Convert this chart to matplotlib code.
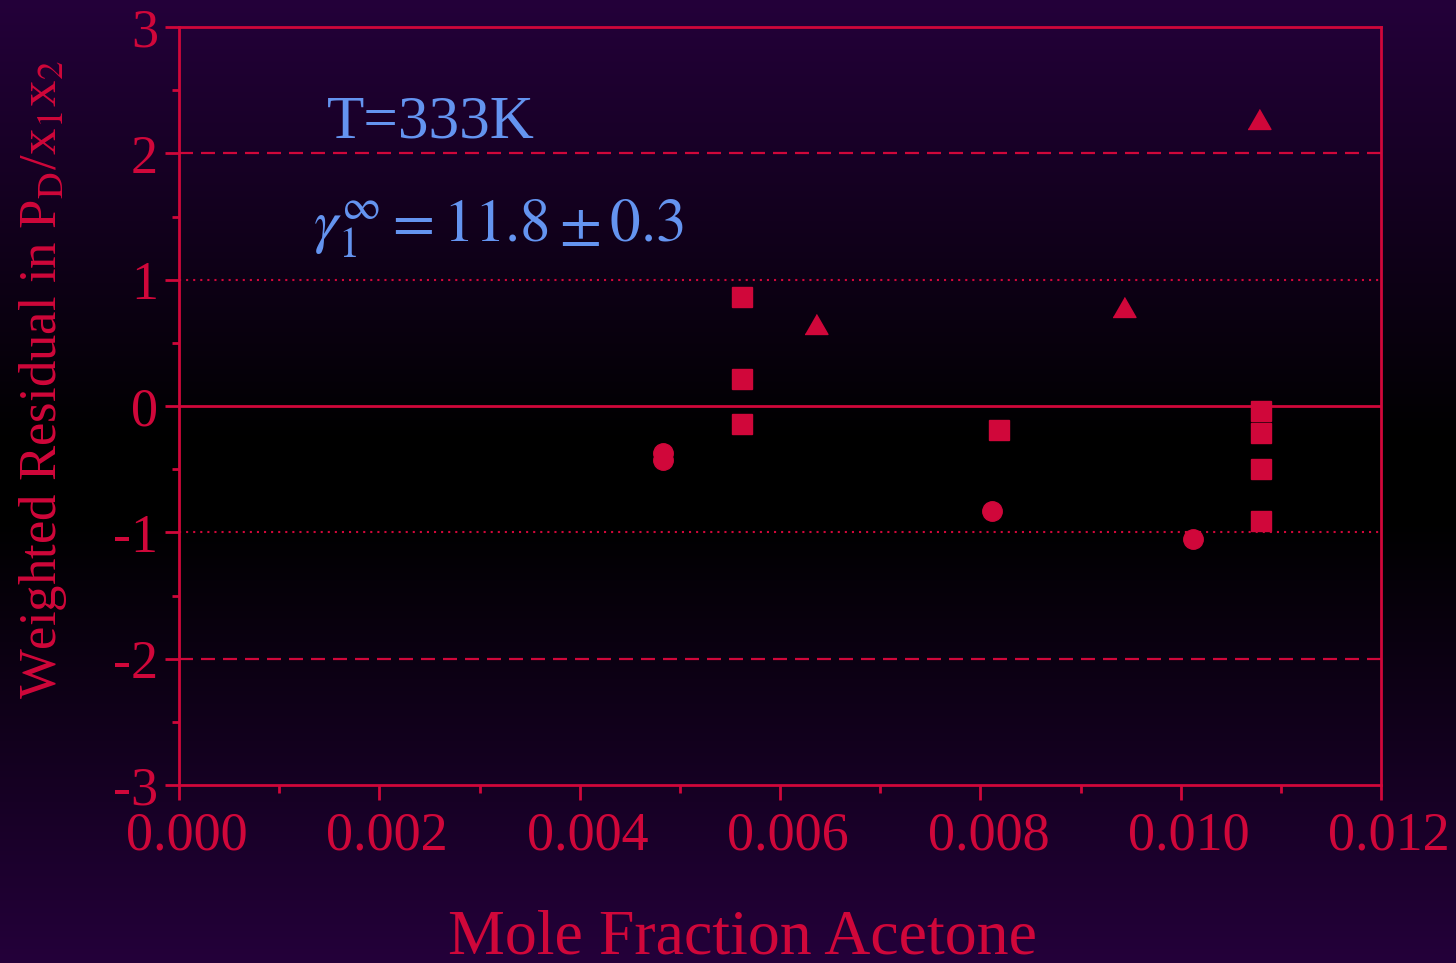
import numpy as np
import matplotlib
import matplotlib.pyplot as plt
import matplotlib.transforms as mtransforms
from matplotlib.ticker import MultipleLocator, FormatStrFormatter

matplotlib.use('Agg')

# data
circle_x = [0.00483, 0.00483, 0.00812, 0.01012]
circle_y = [-0.37, -0.43, -0.83, -1.05]

square_x = [0.00562, 0.00562, 0.00562, 0.00819, 0.01080, 0.01080, 0.01080, 0.01080]
square_y = [0.86, 0.21, -0.14, -0.19, -0.04, -0.21, -0.50, -0.91]

triangle_x = [0.00636, 0.00943, 0.01078]
triangle_y = [0.65, 0.78, 2.27]

y_ticks = [-3, -2, -1, 0, 1, 2, 3]
x_ticks = [0.000, 0.002, 0.004, 0.006, 0.008, 0.010, 0.012]

RED = '#d0073a'
BLUE = '#6494f0'
PURPLE = np.array([36, 0, 58]) / 255.0

plt.rcParams['font.family'] = ['Liberation Serif', 'DejaVu Serif']
plt.rcParams['mathtext.fontset'] = 'stix'
plt.rcParams['axes.unicode_minus'] = False

fig = plt.figure(figsize=(14.56, 9.63), dpi=100)

# background: purple at top and bottom, black through the middle
bg_ax = fig.add_axes([0, 0, 1, 1], zorder=-10)
rows = np.linspace(0, 1, 400)
t = np.clip((np.abs(rows - 0.5) - 0.04) / 0.46, 0, 1)
grad = t[:, None, None] * PURPLE[None, None, :]
bg_ax.imshow(grad, aspect='auto', extent=[0, 1, 0, 1], origin='upper')
bg_ax.axis('off')

ax = fig.add_axes([179 / 1456, 1 - 785 / 963, 1202 / 1456, 758 / 963])
ax.patch.set_alpha(0)

# reference lines
ax.axhline(0, color=RED, lw=2, zorder=1)
for yy in (2, -2):
    ax.axhline(yy, color=RED, lw=1.6, linestyle=(0, (6.3, 3.6)), zorder=1)
for yy in (1, -1):
    ax.axhline(yy, color=RED, lw=1.5, linestyle=(0, (1.0, 2.4)), zorder=1)

ax.plot(circle_x, circle_y, 'o', color=RED, markersize=14, mec=RED, zorder=3)
ax.plot(square_x, square_y, 's', color=RED, markersize=14, mec=RED, zorder=3)
tri = [(-1, -0.87), (1, -0.87), (0, 0.87)]
ax.plot(triangle_x, triangle_y, linestyle='none', marker=tri, color=RED,
        markersize=16.5, mec=RED, zorder=3)

ax.set_xlim(0, 0.012)
ax.set_ylim(-3, 3)
ax.set_xticks(x_ticks)
ax.set_yticks(y_ticks)
ax.xaxis.set_major_formatter(FormatStrFormatter('%.3f'))
ax.xaxis.set_minor_locator(MultipleLocator(0.001))
ax.yaxis.set_minor_locator(MultipleLocator(0.5))

for side in ax.spines.values():
    side.set_color(RED)
    side.set_linewidth(2)

ax.tick_params(axis='both', which='major', direction='out', color=RED,
               labelcolor=RED, width=2, labelsize=39)
ax.tick_params(axis='x', which='major', length=11, pad=8)
ax.tick_params(axis='y', which='major', length=10, pad=5)
ax.tick_params(axis='x', which='minor', direction='out', color=RED, width=2, length=6)
ax.tick_params(axis='y', which='minor', direction='out', color=RED, width=2, length=5)

# x tick labels sit a little right of their ticks in the reference
shift = mtransforms.ScaledTranslation(8 / 100, 0, fig.dpi_scale_trans)
for lab in ax.get_xticklabels():
    lab.set_transform(lab.get_transform() + shift)

ax.set_xlabel('Mole Fraction Acetone', color=RED, fontsize=46, va='baseline')
ax.xaxis.set_label_coords((742 - 179) / 1202, (785 - 953) / 758)

ax.set_ylabel(r'Weighted Residual in P$_\mathrm{D}$/x$_1$x$_2$', color=RED,
              fontsize=38, va='center', ha='center')
ax.yaxis.set_label_coords((43 - 179) / 1202, (785 - 380) / 758)

ax.text(327 / 1456, 1 - 137 / 963, 'T=333K', transform=fig.transFigure,
        color=BLUE, fontsize=44, ha='left', va='baseline')
ax.text(313 / 1456, 1 - 242 / 963, r'$\gamma_1^{\infty} = 11.8 \pm 0.3$',
        transform=fig.transFigure, color=BLUE, fontsize=44, ha='left', va='baseline')

fig.savefig('out.png', dpi=100)
